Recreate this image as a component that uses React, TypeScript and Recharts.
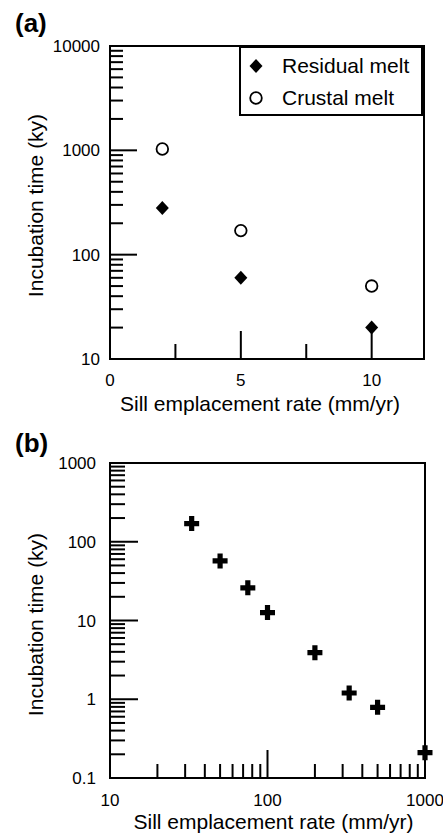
import { ScatterChart, Scatter, XAxis, YAxis, ReferenceArea, Legend, Label } from "recharts";

const FONT = '"Liberation Sans", Arial, Helvetica, sans-serif';

// (a) incubation time vs sill emplacement rate, two melt types
const seriesA = ["Residual melt", "Crustal melt"];
const rateA = [2, 5, 10];
const residualMelt = [280, 60, 20];
const crustalMelt = [1030, 170, 50];
const xDomainA = [0, 12];
const yDomainA = [10, 10000];
const xTicksA = [0, 2.5, 5, 7.5, 10];
const xLabelsA = [0, 5, 10];
const yLabelsA = [10, 100, 1000, 10000];

// (b) log-log version
const rateB = [33, 50, 75, 100, 200, 330, 500, 1000];
const incubationB = [170, 57, 26, 12.6, 3.9, 1.2, 0.79, 0.21];
const xDomainB = [10, 1000];
const yDomainB = [0.1, 1000];
const xLabelsB = [10, 100, 1000];
const yLabelsB = [0.1, 1, 10, 100, 1000];

// 1..9 x every decade, for the minor tick marks
const decadeTicks = (from: number, to: number) => {
  const out: number[] = [];
  for (let d = from; d < to; d *= 10) {
    for (let m = 1; m < 10; m++) out.push(+(m * d).toPrecision(2));
  }
  out.push(to);
  return out;
};

const residualData = rateA.map((x, i) => ({ x, y: residualMelt[i] }));
const crustalData = rateA.map((x, i) => ({ x, y: crustalMelt[i] }));
const dataB = rateB.map((x, i) => ({ x, y: incubationB[i] }));

const Diamond = ({ cx, cy }: any) => (
  <path d={`M${cx},${cy - 7} L${cx + 6.5},${cy} L${cx},${cy + 7} L${cx - 6.5},${cy} Z`} fill="#000" />
);
const Ring = ({ cx, cy }: any) => (
  <circle cx={cx} cy={cy} r={5.8} fill="#fff" stroke="#000" strokeWidth={1.8} />
);
const Plus = ({ cx, cy }: any) => {
  const a = 7.5;
  const t = 2.6;
  return (
    <path
      d={`M${cx - t},${cy - a} H${cx + t} V${cy - t} H${cx + a} V${cy + t} H${cx + t} V${cy + a} H${cx - t} V${cy + t} H${cx - a} V${cy - t} H${cx - t} Z`}
      fill="#000"
    />
  );
};

// ticks drawn inward from the axis, labels only on the majors
const yTick = (labels: number[], margin: number, minor: number, major: number) => (props: any) => {
  const { x, y, payload } = props;
  const isMajor = labels.includes(payload.value);
  const ax = x + margin;
  return (
    <g>
      <line x1={ax} x2={ax + (isMajor ? major : minor)} y1={y} y2={y} stroke="#000" strokeWidth={2} />
      {isMajor && (
        <text x={x} y={y} dy="0.36em" textAnchor="end" fontSize={17} fontFamily={FONT} fill="#000">
          {payload.value}
        </text>
      )}
    </g>
  );
};

const xTick = (labels: number[], margin: number, minor: number, major: number) => (props: any) => {
  const { x, y, payload } = props;
  const isMajor = labels.includes(payload.value);
  const ay = y - margin;
  return (
    <g>
      <line x1={x} x2={x} y1={ay} y2={ay - (isMajor ? major : minor)} stroke="#000" strokeWidth={2} />
      {isMajor && (
        <text x={x} y={y} dy="0.71em" textAnchor="middle" fontSize={17} fontFamily={FONT} fill="#000">
          {payload.value}
        </text>
      )}
    </g>
  );
};

const yTitle = (shift: number) => (p: any) => {
  const vb = p.viewBox || {};
  const cy = (vb.y ?? 0) + (vb.height ?? 0) / 2 + shift;
  return (
    <text transform={`translate(35, ${cy}) rotate(-90)`} dy="0.36em" textAnchor="middle" fontSize={21} fontFamily={FONT} fill="#000">
      Incubation time (ky)
    </text>
  );
};

const xTitle = (shift: number, baseline: number) => (p: any) => {
  const vb = p.viewBox || {};
  const cx = (vb.x ?? 0) + (vb.width ?? 0) / 2 + shift;
  return (
    <text x={cx} y={(vb.y ?? 0) + baseline} textAnchor="middle" fontSize={21} fontFamily={FONT} fill="#000">
      Sill emplacement rate (mm/yr)
    </text>
  );
};

const LegendMarker = ({ name }: { name: string }) => (
  <svg width={14} height={16} style={{ marginLeft: 8, marginRight: 19, flex: "none" }}>
    {name === "Residual melt" ? <Diamond cx={7} cy={8} /> : <Ring cx={7} cy={8} />}
  </svg>
);

const renderLegend = (props: any) => {
  // keep the series order, the legend sorts by name otherwise
  const items = [...(props.payload || [])].sort(
    (a: any, b: any) => seriesA.indexOf(a.value) - seriesA.indexOf(b.value),
  );
  return (
    <div
      style={{
        boxSizing: "border-box",
        width: 184,
        height: 70,
        border: "2px solid #000",
        background: "#fff",
        paddingTop: 2,
        fontFamily: FONT,
        fontSize: 21,
        color: "#000",
      }}
    >
      {items.map((entry: any) => (
        <div key={entry.value} style={{ display: "flex", alignItems: "center", height: 32 }}>
          <LegendMarker name={entry.value} />
          <span>{entry.value}</span>
        </div>
      ))}
    </div>
  );
};

function PanelA() {
  return (
    <ScatterChart width={443} height={420} margin={{ top: 46, right: 19, bottom: 0, left: 0 }}>
      <XAxis
        type="number"
        dataKey="x"
        domain={xDomainA}
        ticks={xTicksA}
        interval={0}
        height={61}
        axisLine={false}
        tickLine={false}
        tickSize={0}
        tickMargin={15}
        tick={xTick(xLabelsA, 15, 15, 28)}
        label={<Label content={xTitle(-7, 52)} />}
      />
      <YAxis
        type="number"
        dataKey="y"
        scale="log"
        domain={yDomainA}
        ticks={decadeTicks(yDomainA[0], yDomainA[1])}
        interval={0}
        width={110}
        axisLine={false}
        tickLine={false}
        tickSize={0}
        tickMargin={10}
        tick={yTick(yLabelsA, 10, 13, 27)}
        label={<Label content={yTitle(3)} />}
      />
      <ReferenceArea
        x1={xDomainA[0]}
        x2={xDomainA[1]}
        y1={yDomainA[0]}
        y2={yDomainA[1]}
        fill="none"
        stroke="#000"
        strokeWidth={2}
        ifOverflow="visible"
      />
      <Legend
        layout="vertical"
        align="center"
        verticalAlign="middle"
        wrapperStyle={{ top: 46, left: 239, width: 184, height: 70 }}
        content={renderLegend}
      />
      <Scatter name={seriesA[0]} data={residualData} fill="#000" shape={Diamond} isAnimationActive={false} />
      <Scatter name={seriesA[1]} data={crustalData} fill="#fff" stroke="#000" shape={Ring} isAnimationActive={false} />
    </ScatterChart>
  );
}

function PanelB() {
  return (
    <ScatterChart width={443} height={417} margin={{ top: 43, right: 18, bottom: 0, left: 0 }}>
      <XAxis
        type="number"
        dataKey="x"
        scale="log"
        domain={xDomainB}
        ticks={decadeTicks(xDomainB[0], xDomainB[1])}
        interval={0}
        height={59}
        axisLine={false}
        tickLine={false}
        tickSize={0}
        tickMargin={16}
        tick={xTick(xLabelsB, 16, 14, 28)}
        label={<Label content={xTitle(6, 51)} />}
      />
      <YAxis
        type="number"
        dataKey="y"
        scale="log"
        domain={yDomainB}
        ticks={decadeTicks(yDomainB[0], yDomainB[1])}
        interval={0}
        width={110}
        axisLine={false}
        tickLine={false}
        tickSize={0}
        tickMargin={14}
        tick={yTick(yLabelsB, 14, 15, 28)}
        label={<Label content={yTitle(4)} />}
      />
      <ReferenceArea
        x1={xDomainB[0]}
        x2={xDomainB[1]}
        y1={yDomainB[0]}
        y2={yDomainB[1]}
        fill="none"
        stroke="#000"
        strokeWidth={2}
        ifOverflow="visible"
      />
      <Scatter name="Incubation time" data={dataB} fill="#000" shape={Plus} isAnimationActive={false} />
    </ScatterChart>
  );
}

export default function App() {
  return (
    <div style={{ position: "absolute", top: 0, left: 0, width: 443, height: 837, background: "#fff", fontFamily: FONT }}>
      <div style={{ position: "absolute", top: 0, left: 0 }}>
        <PanelA />
      </div>
      <div style={{ position: "absolute", top: 420, left: 0 }}>
        <PanelB />
      </div>
      <svg width={443} height={837} style={{ position: "absolute", top: 0, left: 0, pointerEvents: "none" }}>
        <text x={15} y={32} fontSize={26} fontWeight="bold" fontFamily={FONT} fill="#000">(a)</text>
        <text x={15} y={452} fontSize={26} fontWeight="bold" fontFamily={FONT} fill="#000">(b)</text>
      </svg>
    </div>
  );
}
